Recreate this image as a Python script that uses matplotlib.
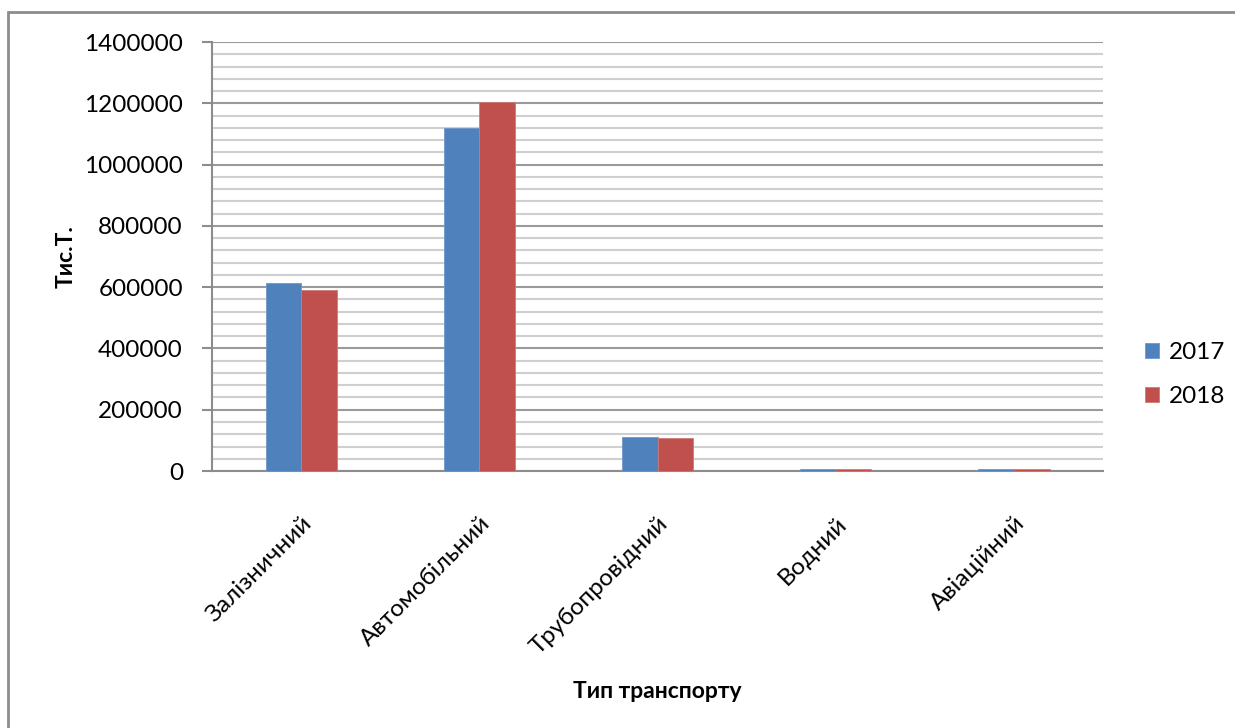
import matplotlib

matplotlib.use("Agg")
import matplotlib.pyplot as plt
import numpy as np
from matplotlib.patches import Rectangle
from matplotlib.ticker import MultipleLocator

categories = ["Залізничний", "Автомобільний", "Трубопровідний", "Водний", "Авіаційний"]
years = ["2017", "2018"]
values_2017 = [615000, 1120000, 112000, 6000, 6000]
values_2018 = [591000, 1203000, 107000, 6000, 6000]
colors = ["#4F81BD", "#C0504D"]
edge_colors = ["#6f97c9", "#d07a77"]

plt.rcParams["font.family"] = ["Lato", "Open Sans", "DejaVu Sans"]

fig = plt.figure(figsize=(12.35, 7.28), dpi=100)
ax = fig.add_axes([0.1717, 0.353, 0.7214, 0.5893])

# outer chart frame (only top and left edges are inside the canvas)
fig.patches.append(Rectangle((8 / 1235, -0.1), 1.2, 1 - 12 / 728 + 0.1,
                             transform=fig.transFigure, fill=False,
                             edgecolor="#8c8c8c", linewidth=2))

x = np.arange(len(categories))
width = 0.2
for i, (year, vals) in enumerate(zip(years, [values_2017, values_2018])):
    ax.bar(x + (i - 0.5) * width, vals, width, color=colors[i], label=year,
           edgecolor=edge_colors[i], linewidth=0.6, zorder=3)

ax.set_xlim(-0.5, len(categories) - 0.5)
ax.set_ylim(0, 1400000)
ax.yaxis.set_major_locator(MultipleLocator(200000))
ax.yaxis.set_minor_locator(MultipleLocator(40000))
ax.grid(True, which="major", axis="y", color="#9a9a9a", linewidth=1.5, zorder=1)
ax.grid(True, which="minor", axis="y", color="#cfcfcf", linewidth=1.5, zorder=1)

for side in ["top", "right"]:
    ax.spines[side].set_visible(False)
for side in ["left", "bottom"]:
    ax.spines[side].set_color("#8c8c8c")
    ax.spines[side].set_linewidth(1.5)

ax.tick_params(axis="y", which="major", length=7, width=1.5, color="#8c8c8c",
               labelsize=17.5, pad=14)
ax.tick_params(axis="y", which="minor", length=0)
ax.tick_params(axis="x", length=0, labelsize=17.5, pad=30)
ax.set_xticks(x)
ax.set_xticklabels(categories, rotation=45, ha="right", rotation_mode="anchor")
ax.set_yticklabels([f"{int(v)}" for v in ax.get_yticks()])

ax.set_ylabel("Тис.Т.", fontsize=16.5, fontweight="bold", labelpad=5)
ax.set_xlabel("Тип транспорту", fontsize=16.5, fontweight="bold", labelpad=0)
ax.xaxis.set_label_coords(0.5, -0.49)

ax.legend(loc="center left", bbox_to_anchor=(1.023, 0.225), frameon=False,
          fontsize=17.5, handlelength=0.55, handleheight=0.55,
          labelspacing=0.95, handletextpad=0.4)

fig.savefig("out.png", dpi=100, facecolor="white")
